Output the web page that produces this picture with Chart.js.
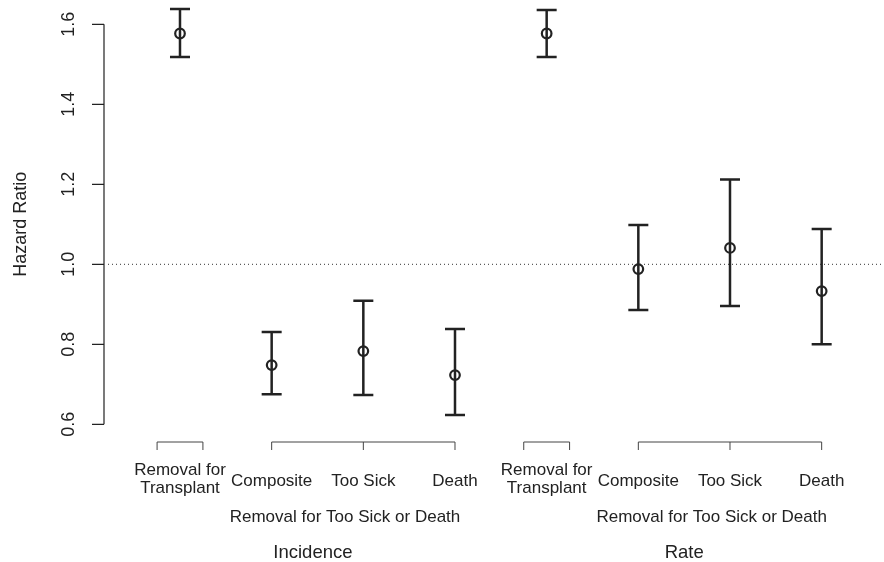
<!DOCTYPE html>
<html>
<head>
<meta charset="utf-8">
<script src="https://cdn.jsdelivr.net/npm/chart.js@4"></script>
<style>
    html, body { margin: 0; padding: 0; background: #fff; overflow: hidden; }
    #wrap { width: 884px; height: 562px; position: relative; overflow: hidden; }
    canvas { display: block; }
</style>
</head>
<body>
<div id="wrap"><canvas id="hrChart"></canvas></div>
<script>
// data
const positions = [1, 2, 3, 4, 5, 6, 7, 8]
const categories = [
    ['Removal for', 'Transplant'], ['Composite'], ['Too Sick'], ['Death'],
    ['Removal for', 'Transplant'], ['Composite'], ['Too Sick'], ['Death']
]
const hazardRatio = [1.577, 0.748, 0.783, 0.723, 1.577, 0.988, 1.041, 0.933]
const lowerCI = [1.518, 0.675, 0.673, 0.623, 1.518, 0.886, 0.896, 0.800]
const upperCI = [1.638, 0.831, 0.909, 0.838, 1.636, 1.098, 1.212, 1.088]
const yTicks = [0.6, 0.8, 1.0, 1.2, 1.4, 1.6]
const yTickLabels = ['0.6', '0.8', '1.0', '1.2', '1.4', '1.6']
const groupLabel = 'Removal for Too Sick or Death'
const panels = ['Incidence', 'Rate']

const ink = '#222'
const fam = '"Liberation Sans", Arial, sans-serif'
const font = '17px ' + fam

// error bars, axes and text drawn with the chart's scales
const rAxisPlugin = {
    id: 'rAxis',
    beforeDatasetsDraw(chart) {
        const { ctx, chartArea, scales: { x, y } } = chart
        // reference line at HR = 1
        ctx.save()
        ctx.strokeStyle = '#333'
        ctx.lineWidth = 1
        ctx.setLineDash([1, 3])
        ctx.beginPath()
        ctx.moveTo(chartArea.left, y.getPixelForValue(1))
        ctx.lineTo(chart.width, y.getPixelForValue(1))
        ctx.stroke()
        ctx.restore()

        // error bars
        ctx.save()
        ctx.strokeStyle = ink
        ctx.lineWidth = 2.5
        positions.forEach((p, i) => {
            const px = x.getPixelForValue(p)
            const top = y.getPixelForValue(upperCI[i])
            const bot = y.getPixelForValue(lowerCI[i])
            ctx.beginPath()
            ctx.moveTo(px, top); ctx.lineTo(px, bot)
            ctx.moveTo(px - 10, top); ctx.lineTo(px + 10, top)
            ctx.moveTo(px - 10, bot); ctx.lineTo(px + 10, bot)
            ctx.stroke()
        })
        ctx.restore()
    },
    afterDraw(chart) {
        const { ctx, scales: { x, y } } = chart
        ctx.save()
        ctx.strokeStyle = ink
        ctx.fillStyle = ink
        ctx.lineWidth = 1.2
        ctx.font = font

        // y axis, R style
        const ax = 104
        ctx.beginPath()
        ctx.moveTo(ax, y.getPixelForValue(yTicks[0]))
        ctx.lineTo(ax, y.getPixelForValue(yTicks[yTicks.length - 1]))
        yTicks.forEach(t => {
            ctx.moveTo(ax, y.getPixelForValue(t))
            ctx.lineTo(ax - 12, y.getPixelForValue(t))
        })
        ctx.stroke()
        ctx.textAlign = 'center'
        ctx.textBaseline = 'middle'
        ctx.font = '18px ' + fam
        yTicks.forEach((t, i) => {
            ctx.save()
            ctx.translate(69, y.getPixelForValue(t))
            ctx.rotate(-Math.PI / 2)
            ctx.fillText(yTickLabels[i], 0, 0)
            ctx.restore()
        })
        ctx.save()
        ctx.translate(21, y.getPixelForValue(1.1))
        ctx.rotate(-Math.PI / 2)
        ctx.fillText('Hazard Ratio', 0, 0)
        ctx.restore()
        ctx.font = font

        // bottom brackets
        const by = 442, bt = 450
        ctx.strokeStyle = '#444'
        ctx.lineWidth = 1
        ;[0, 4].forEach(k => {
            const a = x.getPixelForValue(positions[k] - 0.25)
            const b = x.getPixelForValue(positions[k] + 0.25)
            ctx.beginPath()
            ctx.moveTo(a, bt); ctx.lineTo(a, by); ctx.lineTo(b, by); ctx.lineTo(b, bt)
            ctx.stroke()
            const a2 = x.getPixelForValue(positions[k + 1])
            const m2 = x.getPixelForValue(positions[k + 2])
            const b2 = x.getPixelForValue(positions[k + 3])
            ctx.beginPath()
            ctx.moveTo(a2, bt); ctx.lineTo(a2, by); ctx.lineTo(b2, by); ctx.lineTo(b2, bt)
            ctx.moveTo(m2, by); ctx.lineTo(m2, bt)
            ctx.stroke()
        })

        // category labels
        positions.forEach((p, i) => {
            const px = x.getPixelForValue(p)
            const lines = categories[i]
            if (lines.length === 2) {
                ctx.fillText(lines[0], px, 470)
                ctx.fillText(lines[1], px, 488)
            } else {
                ctx.fillText(lines[0], px, 481)
            }
        })
        ctx.fillText(groupLabel, x.getPixelForValue(2.8), 517)
        ctx.fillText(groupLabel, x.getPixelForValue(6.8), 517)
        ctx.font = '18.5px ' + fam
        ctx.fillText(panels[0], x.getPixelForValue(2.45), 553)
        ctx.fillText(panels[1], x.getPixelForValue(6.5), 553)
        ctx.restore()
    }
}

const ctx = document.getElementById('hrChart').getContext('2d')
const hrChart = new Chart(ctx, {
    type: 'scatter',
    data: {
        datasets: [{
            data: positions.map((p, i) => ({ x: p, y: hazardRatio[i] })),
            pointStyle: 'circle',
            pointRadius: 4.8,
            pointBorderWidth: 2.2,
            pointBackgroundColor: 'rgba(0,0,0,0)',
            pointBorderColor: ink
        }]
    },
    options: {
        responsive: true,
        maintainAspectRatio: false,
        animation: false,
        layout: { autoPadding: false, padding: { left: 108, right: 0, top: 4, bottom: 126 } },
        scales: {
            x: { type: 'linear', min: 0.2146, max: 8.68, display: false },
            y: { type: 'linear', min: 0.57075, max: 1.65075, display: false }
        },
        plugins: {
            legend: { display: false },
            tooltip: { enabled: false }
        }
    },
    plugins: [rAxisPlugin]
})
</script>
</body>
</html>
